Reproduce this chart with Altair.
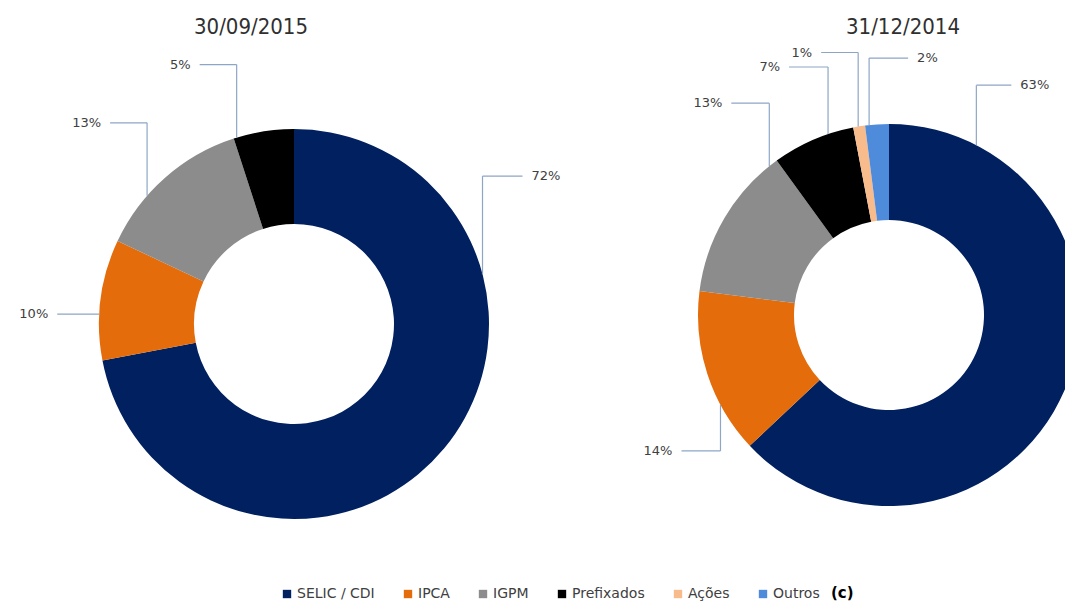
import math
import altair as alt
import pandas as pd

# ---------------- data ----------------
categories = ["SELIC / CDI", "IPCA", "IGPM", "Prefixados", "Ações", "Outros"]
values_2015 = [72, 10, 13, 5, 0, 0]
values_2014 = [63, 14, 13, 7, 1, 2]
titles = ["30/09/2015", "31/12/2014"]
colors = ["#002060", "#E46C0A", "#8C8C8C", "#000000", "#F8BB8C", "#4F8BDB"]

# ---------------- layout (page pixels) ----------------
donuts = [
    dict(title=titles[0], values=values_2015, cx=294, cy=324, ro=195, ri=100, tx=251, ty=27,
         anchor=[0.29, 0.38, 0.34, 0.05, 0, 0], vleg=[-98, 0, -73, -73, 0, 0],
         hleg=[40, -42, -37, -37, 0, 0]),
    dict(title=titles[1], values=values_2014, cx=889, cy=315, ro=191, ri=95, tx=903, ty=27,
         anchor=[0.12, 0.30, 0.94, 0.69, 0.42, 0.17], vleg=[-60, 46, -63, -67, -74, -67],
         hleg=[35, -39, -38, -39, -37, 39]),
]

arc_rows, seg_rows, lab_rows, title_rows = [], [], [], []
for d_i, d in enumerate(donuts):
    total = sum(d["values"])
    acc = 0.0
    title_rows.append(dict(x=d["tx"], y=d["ty"], text=d["title"]))
    for c_i, (cat, v) in enumerate(zip(categories, d["values"])):
        a0 = acc / total * 2 * math.pi
        acc += v
        a1 = acc / total * 2 * math.pi
        if v <= 0:
            continue
        arc_rows.append(dict(donut=d_i, cat=cat, order=c_i, t0=a0, t1=a1,
                             cx=d["cx"], cy=d["cy"]))
        ang = a0 + d["anchor"][c_i] * (a1 - a0)
        sx = d["cx"] + d["ro"] * math.sin(ang)
        sy = d["cy"] - d["ro"] * math.cos(ang)
        ey = sy + d["vleg"][c_i]
        ex = sx + d["hleg"][c_i]
        if d["vleg"][c_i] != 0:
            seg_rows.append(dict(x=sx, y=sy, x2=sx, y2=ey))
        seg_rows.append(dict(x=sx, y=ey, x2=ex, y2=ey))
        side = "left" if d["hleg"][c_i] > 0 else "right"
        lab_rows.append(dict(x=ex + (9 if side == "left" else -9), y=ey,
                             text=f"{v}%", side=side))

arcs = pd.DataFrame(arc_rows)
segs = pd.DataFrame(seg_rows)
labs = pd.DataFrame(lab_rows)
tits = pd.DataFrame(title_rows)
extra = pd.DataFrame([dict(x=831, y=593, text="(c)")])

NARROW = "DejaVu Sans Condensed, Liberation Sans Narrow, DejaVu Sans, sans-serif"

W, H = 1057, 594
xs = alt.Scale(domain=[8, 8 + W], nice=False, zero=False)
ys = alt.Scale(domain=[8, 8 + H], nice=False, zero=False, reverse=True)

color = alt.Color(
    "cat:N",
    title=None,
    scale=alt.Scale(domain=categories, range=colors),
    legend=alt.Legend(
        orient="none", legendX=272, legendY=579, direction="horizontal",
        symbolType="square", symbolSize=70, symbolStrokeWidth=0,
        labelFont="DejaVu Sans", labelFontSize=14, labelColor="#404040",
        columnPadding=26, labelOffset=3,
    ),
)

def donut_layer(i):
    d = donuts[i]
    return alt.Chart(arcs).transform_filter(alt.datum.donut == i).mark_arc(
        radius=d["ro"], radius2=d["ri"], clip=True
    ).encode(
        x=alt.X("cx:Q", scale=xs, axis=None),
        y=alt.Y("cy:Q", scale=ys, axis=None),
        theta=alt.Theta("t0:Q", scale=None, stack=None),
        theta2="t1:Q",
        color=color,
    )

leaders = alt.Chart(segs).mark_rule(color="#8EA6C6", strokeWidth=1.2).encode(
    x=alt.X("x:Q", scale=xs, axis=None),
    y=alt.Y("y:Q", scale=ys, axis=None),
    x2="x2:Q",
    y2="y2:Q",
)

def label_layer(side):
    return alt.Chart(labs).transform_filter(alt.datum.side == side).mark_text(
        align=side, baseline="middle", font="DejaVu Sans", fontSize=13, color="#404040"
    ).encode(
        x=alt.X("x:Q", scale=xs, axis=None),
        y=alt.Y("y:Q", scale=ys, axis=None),
        text="text:N",
    )

title_layer = alt.Chart(tits).mark_text(
    align="center", baseline="middle", font=NARROW, fontSize=22,
    color="#303030"
).encode(
    x=alt.X("x:Q", scale=xs, axis=None),
    y=alt.Y("y:Q", scale=ys, axis=None),
    text="text:N",
)

c_layer = alt.Chart(extra).mark_text(
    align="left", baseline="middle", font="DejaVu Sans", fontSize=15,
    fontWeight="bold", color="#000000"
).encode(
    x=alt.X("x:Q", scale=xs, axis=None),
    y=alt.Y("y:Q", scale=ys, axis=None),
    text="text:N",
)

chart = alt.layer(
    donut_layer(0), donut_layer(1), leaders,
    label_layer("left"), label_layer("right"), title_layer, c_layer,
).properties(
    width=W, height=H, padding=0,
    autosize=alt.AutoSizeParams(type="none"),
).configure_view(strokeWidth=0)

chart.save("out.html", embed_options={"renderer": "svg", "actions": False})
